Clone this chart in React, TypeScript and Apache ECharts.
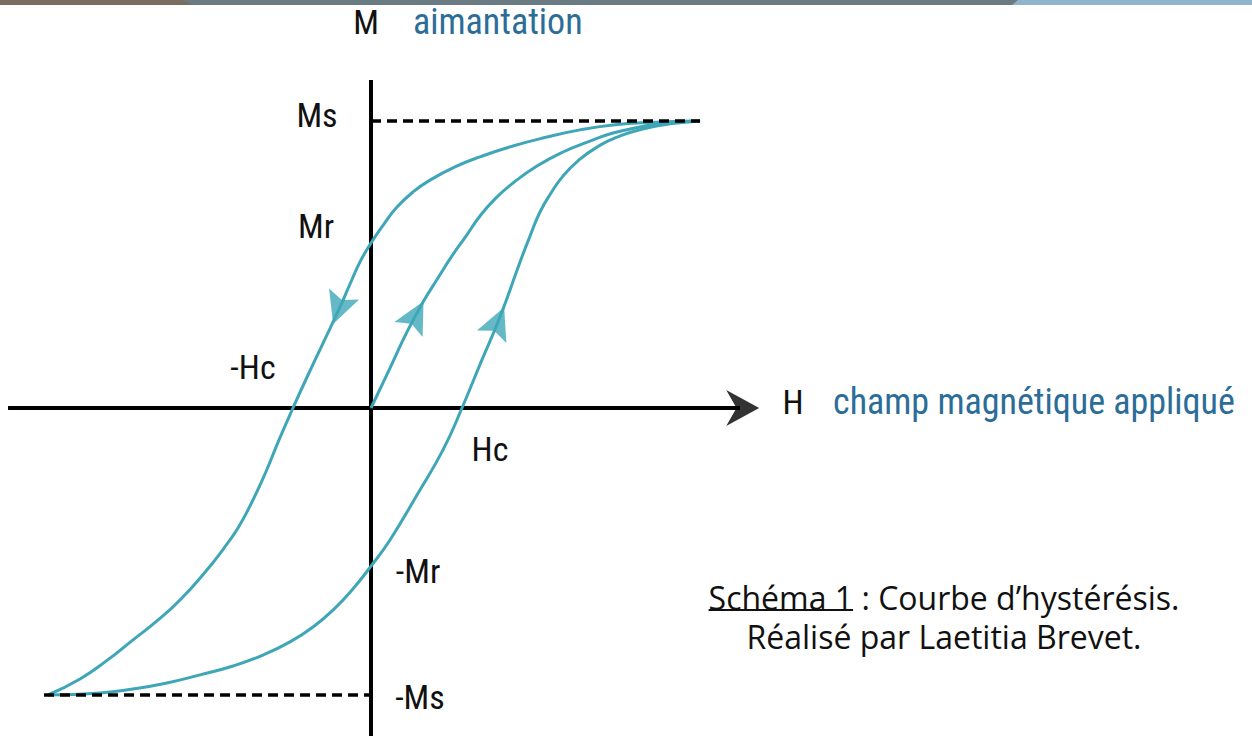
import React, { useEffect, useRef } from "react";
import * as echarts from "echarts";

// ---- Data (H in units of Hc, M in units of Ms) ----
const upperH = [3.656, 3.1, 2.689, 2.322, 1.956, 1.578, 1.211, 0.933, 0.656, 0.467, 0.289, 0.144, 0, -0.122, -0.233, -0.344, -0.522, -0.7, -0.867, -1.022, -1.178, -1.344, -1.478, -1.633, -1.833, -2.122, -2.378, -2.644, -2.944, -3.233, -3.589];
const upperM = [1.0, 0.995, 0.986, 0.969, 0.944, 0.913, 0.875, 0.84, 0.794, 0.753, 0.7, 0.641, 0.575, 0.509, 0.432, 0.352, 0.233, 0.115, 0, -0.111, -0.23, -0.341, -0.418, -0.488, -0.568, -0.669, -0.742, -0.808, -0.882, -0.944, -1.0];

const lowerH = [-3.589, -3.011, -2.644, -2.267, -1.9, -1.533, -1.2, -0.9, -0.644, -0.422, -0.211, 0, 0.211, 0.511, 0.8, 1.011, 1.222, 1.433, 1.656, 1.767, 1.878, 2.0, 2.133, 2.3, 2.511, 2.767, 3.044, 3.322, 3.656];
const lowerM = [-1.0, -0.993, -0.979, -0.958, -0.93, -0.899, -0.861, -0.815, -0.763, -0.704, -0.634, -0.551, -0.46, -0.303, -0.146, 0, 0.16, 0.317, 0.509, 0.599, 0.683, 0.749, 0.808, 0.861, 0.909, 0.948, 0.974, 0.99, 1.0];

const firstH = [0, 0.211, 0.4, 0.578, 0.744, 0.9, 1.056, 1.211, 1.389, 1.578, 1.844, 2.133, 2.433, 2.689, 2.989, 3.244, 3.656];
const firstM = [0, 0.139, 0.265, 0.369, 0.453, 0.53, 0.599, 0.669, 0.732, 0.784, 0.843, 0.892, 0.93, 0.958, 0.979, 0.993, 1.0];

// direction arrows on the curves
const arrowH = [-0.36, 0.5, 1.41];
const arrowM = [0.345, 0.323, 0.3];
const arrowAngle = [160, -28, -23];

// saturation lines
const msLineH = [0, 3.656];
const negMsLineH = [-3.633, 0];

// tick labels
const mTickLabels = ["Ms", "Mr", "-Mr", "-Ms"];
const mTickValues = [1, 0.575, -0.551, -1];
const hTickLabels = ["-Hc", "Hc"];
const hTickValues = [-0.867, 1.011];

// ---- styles ----
const TEAL = "#3ea6b7";
const BLUE = "#2c6d98";
const X_MIN = -4.1222;
const X_MAX = 9.7889;
const Y_MIN = -1.14286;
const Y_MAX = 1.4216;
const LABEL_FONT = "34px 'Roboto Condensed', Roboto, sans-serif";
const NAME_FONT = "36px 'Roboto Condensed', Roboto, sans-serif";
const CAPTION_FONT = "32px 'Open Sans', 'Noto Sans', sans-serif";
const ARROW = "path://M0,0 L16,30 L0,24 L-16,30 Z";
const AXIS_ARROW = "path://M0,0 L17,32 L0,22 L-17,32 Z";

const mTickOffsets = [[-54, -6], [-55, -17], [47, 5], [49, 2]];
const hTickOffsets = [[-40, -41], [28, 41]];

const zip = (a: number[], b: number[]) => a.map((v, i) => [v, b[i]]);

function textEl(text: string, x: number, y: number, font: string, fill: string, align = "center") {
  return {
    type: "text",
    x,
    y,
    z: 10,
    silent: true,
    style: { text, font, fill, textAlign: align, align, textVerticalAlign: "middle", verticalAlign: "middle" },
  };
}

export default function App() {
  const ref = useRef<HTMLDivElement>(null);
  useEffect(() => {
    const chart = echarts.init(ref.current!, undefined, { renderer: "svg" });
    const curve = (data: number[][]) => ({
      type: "line",
      data,
      symbol: "none",
      smooth: 0.5,
      silent: true,
      z: 3,
      lineStyle: { color: TEAL, width: 3 },
    });
    chart.setOption({
      animation: false,
      backgroundColor: "#ffffff",
      grid: { left: 0, right: 0, top: 0, bottom: 0 },
      xAxis: { type: "value", min: X_MIN, max: X_MAX, show: false },
      yAxis: { type: "value", min: Y_MIN, max: Y_MAX, show: false },
      series: [
        // axes
        {
          type: "line",
          data: [[-4.033, 0], [4.1, 0]],
          symbol: "none",
          silent: true,
          z: 2,
          lineStyle: { color: "#000", width: 4 },
        },
        {
          type: "line",
          data: [[0, 1.1429], [0, Y_MIN]],
          symbol: "none",
          silent: true,
          z: 2,
          lineStyle: { color: "#000", width: 4 },
        },
        {
          type: "scatter",
          data: [[4.13, 0]],
          symbol: AXIS_ARROW,
          symbolSize: [36, 33],
          symbolRotate: -90,
          silent: true,
          z: 2,
          itemStyle: { color: "#000" },
        },
        curve(zip(upperH, upperM)),
        curve(zip(lowerH, lowerM)),
        curve(zip(firstH, firstM)),
        // saturation dashed lines
        {
          type: "line",
          data: msLineH.map((h) => [h, 1]),
          symbol: "none",
          silent: true,
          z: 5,
          lineStyle: { color: "#000", width: 3.5, type: [10, 6] },
        },
        {
          type: "line",
          data: negMsLineH.map((h) => [h, -1]),
          symbol: "none",
          silent: true,
          z: 5,
          lineStyle: { color: "#000", width: 3.5, type: [10, 6] },
        },
        // arrows
        {
          type: "scatter",
          data: arrowH.map((h, i) => ({ value: [h, arrowM[i]], symbolRotate: arrowAngle[i] })),
          symbol: ARROW,
          symbolSize: [32, 32],
          silent: true,
          z: 6,
          itemStyle: { color: TEAL },
        },
      ],
    });

    const px = (h: number, m: number) => chart.convertToPixel({ gridIndex: 0 }, [h, m]) as number[];
    const graphics: any[] = [];
    mTickLabels.forEach((t, i) => {
      const p = px(0, mTickValues[i]);
      graphics.push(textEl(t, p[0] + mTickOffsets[i][0], p[1] + mTickOffsets[i][1], LABEL_FONT, "#111"));
    });
    hTickLabels.forEach((t, i) => {
      const p = px(hTickValues[i], 0);
      graphics.push(textEl(t, p[0] + hTickOffsets[i][0], p[1] + hTickOffsets[i][1], LABEL_FONT, "#111"));
    });
    // axis names
    graphics.push(textEl("M", 366, 22, LABEL_FONT, "#111"));
    graphics.push(textEl("aimantation", 413, 22, NAME_FONT, BLUE, "left"));
    graphics.push(textEl("H", 793, 402, LABEL_FONT, "#111"));
    graphics.push(textEl("champ magnétique appliqué", 833, 402, NAME_FONT, BLUE, "left"));

    // caption
    const line1a = "Schéma 1";
    const line1 = "Schéma 1 : Courbe d’hystérésis.";
    const line2 = "Réalisé par Laetitia Brevet.";
    const cx = 944;
    graphics.push(textEl(line1, cx, 597, CAPTION_FONT, "#111"));
    graphics.push(textEl(line2, cx, 636, CAPTION_FONT, "#111"));
    let wAll = 472;
    let wA = 141;
    try {
      const ctx = document.createElement("canvas").getContext("2d")!;
      ctx.font = CAPTION_FONT;
      wAll = ctx.measureText(line1).width;
      wA = ctx.measureText(line1a).width;
    } catch (e) {}
    const ux = cx - wAll / 2;
    graphics.push({
      type: "line",
      z: 10,
      silent: true,
      shape: { x1: ux, y1: 610, x2: ux + wA, y2: 610 },
      style: { stroke: "#111", lineWidth: 2 },
    });

    // top decorative strip
    graphics.push({ type: "rect", z: 9, silent: true, shape: { x: 0, y: 0, width: 1252, height: 5 }, style: { fill: "#6a7b84" } });
    graphics.push({ type: "polygon", z: 10, silent: true, shape: { points: [[0, 0], [182, 0], [194, 5], [0, 5]] }, style: { fill: "#7b6e61" } });
    graphics.push({ type: "polygon", z: 10, silent: true, shape: { points: [[1018, 0], [1252, 0], [1252, 5], [1012, 5]] }, style: { fill: "#90b4cc" } });

    chart.setOption({ graphic: graphics });
    return () => chart.dispose();
  }, []);
  return <div ref={ref} style={{ position: "absolute", left: 0, top: 0, width: 1252, height: 736 }} />;
}
